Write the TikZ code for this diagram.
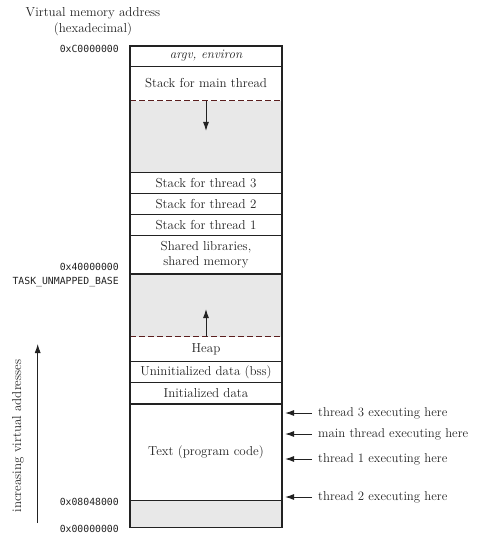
\documentclass[tikz,border=0pt]{standalone}
\usepackage{fontspec}
\setmonofont{DejaVu Sans Mono}
\usetikzlibrary{arrows.meta}
\definecolor{gapgray}{HTML}{E8E8E8}
\definecolor{dashred}{HTML}{5A1E1E}
\definecolor{inkc}{HTML}{222222}
\begin{document}
\begin{tikzpicture}[x=1pt,y=-1pt,
  boxline/.style={draw=inkc, line width=1.1pt},
  gapfill/.style={fill=gapgray},
  growline/.style={draw=dashred, line width=1.1pt, dash pattern=on 5.5pt off 3.5pt},
  rowtext/.style={font=\fontsize{13}{15}\selectfont, text=inkc, align=center, inner sep=0pt},
  addr/.style={font=\ttfamily\fontsize{9.8}{11}\selectfont, text=inkc, anchor=east, inner sep=0pt},
  side/.style={font=\fontsize{12.8}{15}\selectfont, text=inkc, anchor=west, inner sep=0pt},
  tip/.style={-{Latex[length=9pt,width=6pt]}, draw=inkc, line width=1pt},
  ]
\useasboundingbox (0,0) rectangle (486,540);

% gray unmapped regions
\fill[gapfill] (130,100.7) rectangle (282,172.3);
\fill[gapfill] (130,274) rectangle (282,336.7);
\fill[gapfill] (130,500.7) rectangle (282,527.7);

% dashed growth limits
\draw[growline] (130,100.7) -- (282,100.7);
\draw[growline] (130,336.7) -- (282,336.7);

% box outline and separators
\draw[boxline] (130,46) rectangle (282,527.7);
\foreach \yy in {66.3,172.3,193.3,214.3,235.5,274,361.5,382.8,404,500.7}
  \draw[boxline] (130,\yy) -- (282,\yy);

% row texts
\node[rowtext] (argv)  at (206,56)    {\itshape argv, environ};
\node[rowtext] (smain) at (206,83.5)  {Stack for main thread};
\node[rowtext] (st3)   at (206,182.8) {Stack for thread 3};
\node[rowtext] (st2)   at (206,203.8) {Stack for thread 2};
\node[rowtext] (st1)   at (206,224.9) {Stack for thread 1};
\node[rowtext] (shlib) at (206,254.7) {Shared libraries,\\shared memory};
\node[rowtext] (heap)  at (206,349.1) {Heap};
\node[rowtext] (bss)   at (206,372.1) {Uninitialized data (bss)};
\node[rowtext] (idata) at (206,393.4) {Initialized data};
\node[rowtext] (text)  at (206,452.4) {Text (program code)};

% growth arrows
\coordinate (sdown0) at (206,100.7);
\coordinate (sdown1) at (206,131);
\coordinate (hup0) at (206,336.7);
\coordinate (hup1) at (206,309);
\draw[tip] (sdown0) -- (sdown1);
\draw[tip] (hup0) -- (hup1);

% title
\node[rowtext, font=\fontsize{13}{16}\selectfont] (title) at (93,22)
  {Virtual memory address\\(hexadecimal)};

% addresses
\node[addr] (aC) at (119,49)    {0xC0000000};
\node[addr] (a4) at (119,267)   {0x40000000};
\node[addr] (tub) at (119,282)  {TASK\_UNMAPPED\_BASE};
\node[addr] (a08) at (119,501.5) {0x08048000};
\node[addr] (a0) at (119,528.5) {0x00000000};

% execution labels
\node[side] (x3) at (318,413) {thread 3 executing here};
\node[side] (xm) at (318,434) {main thread executing here};
\node[side] (x1) at (318,459) {thread 1 executing here};
\node[side] (x2) at (318,497) {thread 2 executing here};
\coordinate (p3) at (285,413);
\coordinate (pm) at (285,434);
\coordinate (p1) at (285,459);
\coordinate (p2) at (285,497);
\draw[tip] ([xshift=-6pt]x3.west) -- (p3);
\draw[tip] ([xshift=-6pt]xm.west) -- (pm);
\draw[tip] ([xshift=-6pt]x1.west) -- (p1);
\draw[tip] ([xshift=-6pt]x2.west) -- (p2);

% increasing addresses axis
\coordinate (ax0) at (37.7,523);
\coordinate (ax1) at (37.7,344);
\draw[tip, line width=0.8pt] (ax0) -- (ax1);
\node[rowtext, rotate=90] (axl) at (18,436) {increasing virtual addresses};
\end{tikzpicture}
\end{document}
